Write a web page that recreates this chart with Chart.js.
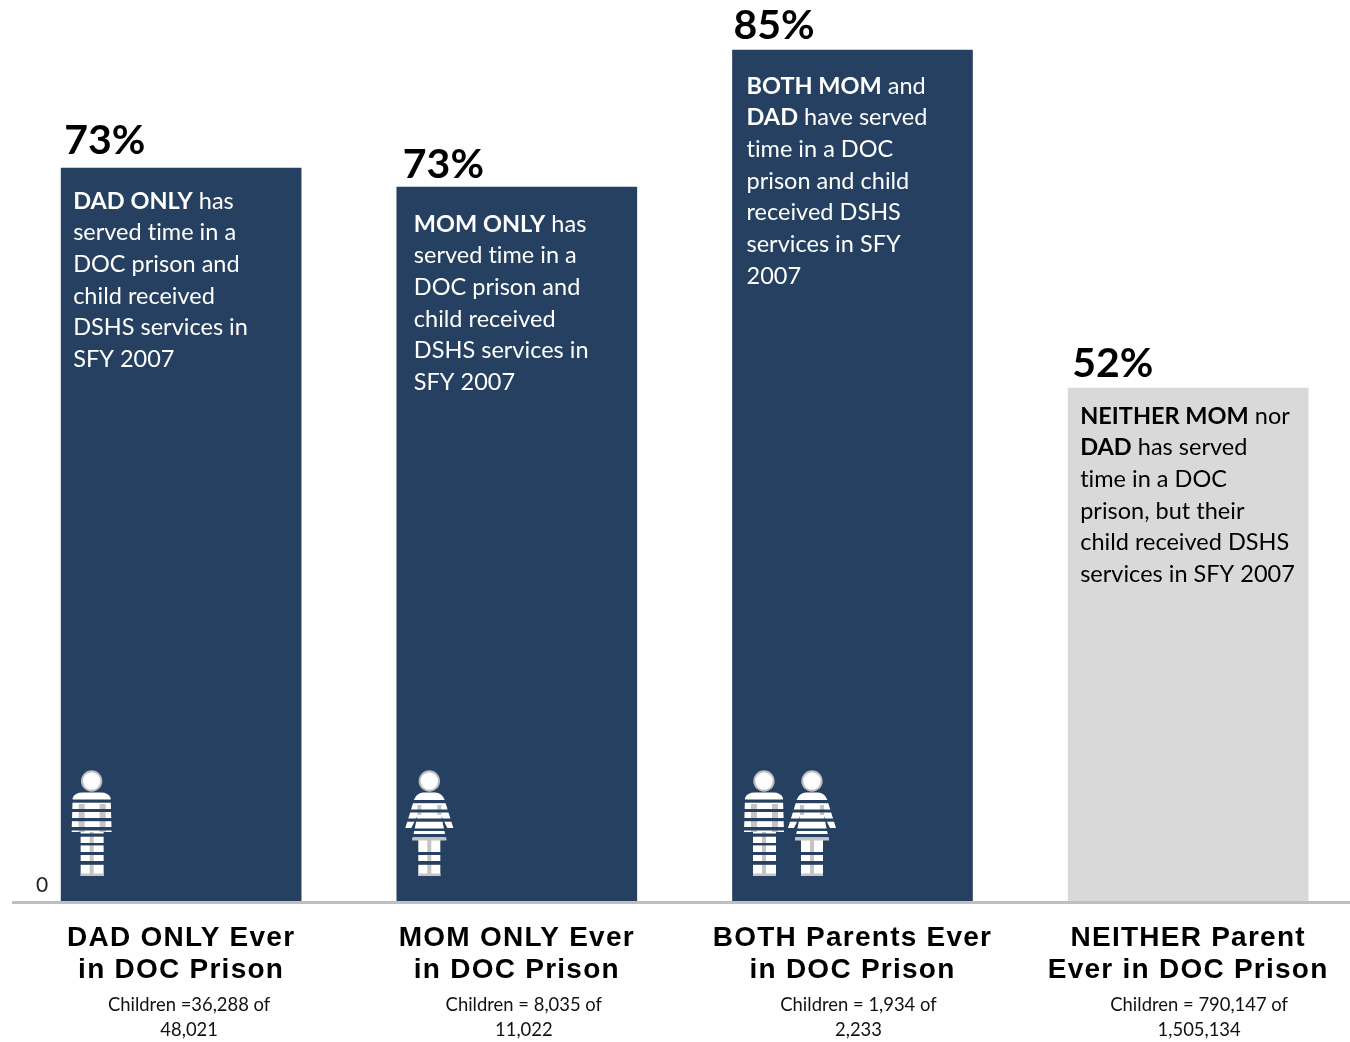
<!DOCTYPE html>
<html>
<head>
<meta charset="utf-8">
<script src="https://cdn.jsdelivr.net/npm/chart.js@4"></script>
<style>
  html, body { margin: 0; padding: 0; background: #fff; overflow: hidden; }
  #wrap { width: 1350px; height: 1042px; overflow: hidden; }
</style>
</head>
<body>
<div id="wrap"><canvas id="chart" width="1356" height="1042"></canvas></div>
<script>
const categories = [
  ["DAD ONLY Ever", "in DOC Prison"],
  ["MOM ONLY Ever", "in DOC Prison"],
  ["BOTH Parents Ever", "in DOC Prison"],
  ["NEITHER Parent", "Ever in DOC Prison"]
];
const barValues = [73.45, 71.55, 85.25, 51.45];
const percentLabels = ["73%", "73%", "85%", "52%"];
const childrenLines = [
  ["Children =36,288 of", "48,021"],
  ["Children = 8,035 of", "11,022"],
  ["Children = 1,934 of", "2,233"],
  ["Children = 790,147 of", "1,505,134"]
];
// "**" switches bold on and off
const barTexts = [
  ["**DAD ONLY** has", "served time in a", "DOC prison and", "child received", "DSHS services in", "SFY 2007"],
  ["**MOM ONLY** has", "served time in a", "DOC prison and", "child received", "DSHS services in", "SFY 2007"],
  ["**BOTH MOM** and", "**DAD** have served", "time in a DOC", "prison and child", "received DSHS", "services in SFY", "2007"],
  ["**NEITHER MOM** nor", "**DAD** has served", "time in a DOC", "prison, but their", "child received DSHS", "services in SFY 2007"]
];
const barColors = ["#264061", "#264061", "#264061", "#d9d9d9"];
const textColors = ["#ffffff", "#ffffff", "#ffffff", "#000000"];
const figures = [["man"], ["woman"], ["man", "woman"], []];

// offsets of the hand placed text, relative to each bar
const pctDx = [3, 6, 1, 4];
const pctDy = [-27, -22, -24, -24];
const textDx = [12, 17, 14, 12];
const textDy = [33, 37, 36, 28];
const childDx = [8, 7, 6, 11];
const figDx = [[30.5], [32.5], [31.5, 79.5], []];

function stripes(ctx, color, x, w, list) {
  ctx.fillStyle = color;
  list.forEach(s => ctx.fillRect(x, s[0], w, s[1]));
}

function drawMan(ctx, cx, headY, color) {
  ctx.save();
  ctx.translate(cx, headY);
  ctx.fillStyle = "#fff";
  ctx.strokeStyle = "#bdbdbd";
  ctx.lineWidth = 2;
  ctx.beginPath();
  ctx.arc(0, 0, 9.7, 0, Math.PI * 2);
  ctx.fill();
  ctx.stroke();
  ctx.beginPath();
  ctx.moveTo(-19, 17);
  ctx.quadraticCurveTo(-17, 11.5, -9, 11.5);
  ctx.lineTo(9, 11.5);
  ctx.quadraticCurveTo(17, 11.5, 19, 17);
  ctx.lineTo(20, 51);
  ctx.lineTo(12, 51);
  ctx.lineTo(12, 95);
  ctx.lineTo(-11, 95);
  ctx.lineTo(-11, 51);
  ctx.lineTo(-20, 51);
  ctx.closePath();
  ctx.fill();
  ctx.fillStyle = "#c4c4c4";
  ctx.fillRect(-13, 23, 6, 28);
  ctx.fillRect(8, 23, 6, 28);
  ctx.fillRect(-2, 51, 4, 44);
  ctx.fillRect(-11, 92.5, 23, 2.5);
  stripes(ctx, color, -22, 44, [[18.5, 3.2], [28, 3], [37, 3.2], [46, 3.5], [52.5, 3.2], [62, 2.4], [71, 3], [80, 3.8]]);
  ctx.restore();
}

function drawWoman(ctx, cx, headY, color) {
  ctx.save();
  ctx.translate(cx, headY);
  ctx.fillStyle = "#fff";
  ctx.strokeStyle = "#bdbdbd";
  ctx.lineWidth = 2;
  ctx.beginPath();
  ctx.arc(0, 0, 9.7, 0, Math.PI * 2);
  ctx.fill();
  ctx.stroke();
  ctx.beginPath();
  ctx.moveTo(-15, 18);
  ctx.quadraticCurveTo(-12, 11.5, -6, 11.5);
  ctx.lineTo(6, 11.5);
  ctx.quadraticCurveTo(12, 11.5, 15, 18);
  ctx.lineTo(24, 47);
  ctx.lineTo(18, 47);
  ctx.lineTo(12, 35);
  ctx.lineTo(17, 59);
  ctx.lineTo(11, 59);
  ctx.lineTo(11, 95);
  ctx.lineTo(-11, 95);
  ctx.lineTo(-11, 59);
  ctx.lineTo(-17, 59);
  ctx.lineTo(-12, 35);
  ctx.lineTo(-18, 47);
  ctx.lineTo(-24, 47);
  ctx.closePath();
  ctx.fill();
  ctx.fillStyle = "#c4c4c4";
  ctx.fillRect(-12, 24, 4, 10);
  ctx.fillRect(8, 24, 4, 10);
  ctx.fillRect(-17, 56.5, 34, 3);
  ctx.fillRect(-2, 59, 4, 36);
  ctx.fillRect(-11, 92.5, 22, 2.5);
  stripes(ctx, color, -26, 52, [[19, 3.2], [28.5, 3], [37.5, 3.2], [47.5, 2.5], [53, 3.2], [71, 3], [80, 3.8]]);
  ctx.restore();
}

const textFont = "Lato";
function drawRuns(ctx, line, x, y) {
  line.split("**").forEach((run, i) => {
    ctx.font = (i % 2 ? "bold " : "") + "23.5px " + textFont;
    ctx.fillText(run, x, y);
    x += ctx.measureText(run).width;
  });
}

const annotations = {
  id: "annotations",
  beforeDraw(chart) {
    // the axis titles in the picture run wide
    chart.ctx.letterSpacing = "1.25px";
  },
  afterDatasetsDraw(chart) {
    const ctx = chart.ctx;
    const bars = chart.getDatasetMeta(0).data;
    const y0 = chart.scales.y.getPixelForValue(0);
    ctx.save();
    ctx.letterSpacing = "0.01px"; // also turns off the Lato "ti" ligature
    ctx.textBaseline = "middle";
    ctx.textAlign = "left";
    bars.forEach((bar, i) => {
      const left = bar.x - bar.width / 2;
      ctx.fillStyle = "#000";
      ctx.font = "bold 41px " + textFont;
      ctx.fillText(percentLabels[i], left + pctDx[i], bar.y + pctDy[i]);

      ctx.fillStyle = textColors[i];
      barTexts[i].forEach((line, k) => {
        drawRuns(ctx, line, left + textDx[i], bar.y + textDy[i] + k * 31.7);
      });

      figures[i].forEach((kind, k) => {
        const draw = kind === "man" ? drawMan : drawWoman;
        draw(ctx, left + figDx[i][k], y0 - 121.5, barColors[i]);
      });

      ctx.fillStyle = "#111";
      ctx.font = "18.4px " + textFont;
      ctx.textAlign = "center";
      childrenLines[i].forEach((line, k) => {
        ctx.fillText(line, bar.x + childDx[i], y0 + 103 + k * 25);
      });
      ctx.textAlign = "left";
    });
    ctx.fillStyle = "#222";
    ctx.font = "21px " + textFont;
    ctx.textAlign = "center";
    ctx.fillText("0", 42, y0 - 17);
    ctx.restore();
  }
};

new Chart(document.getElementById("chart").getContext("2d"), {
  type: "bar",
  data: {
    labels: categories,
    datasets: [{
      data: barValues,
      backgroundColor: barColors,
      barThickness: 240
    }]
  },
  plugins: [annotations],
  options: {
    responsive: false,
    animation: false,
    layout: { padding: { left: 13.3, top: 2.5, right: 0, bottom: 0 } },
    plugins: { legend: { display: false }, tooltip: { enabled: false } },
    scales: {
      x: {
        afterFit(scale) { scale.height = 139.5; },
        grid: { display: false },
        border: { color: "#bfbfbf", width: 3, z: 1 },
        ticks: {
          color: "#000",
          maxRotation: 0,
          autoSkip: false,
          padding: 12,
          font: { family: "Liberation Sans", weight: "bold", size: 28, lineHeight: 1.14 }
        }
      },
      y: { display: false, min: 0, max: 90 }
    }
  }
});
</script>
</body>
</html>
